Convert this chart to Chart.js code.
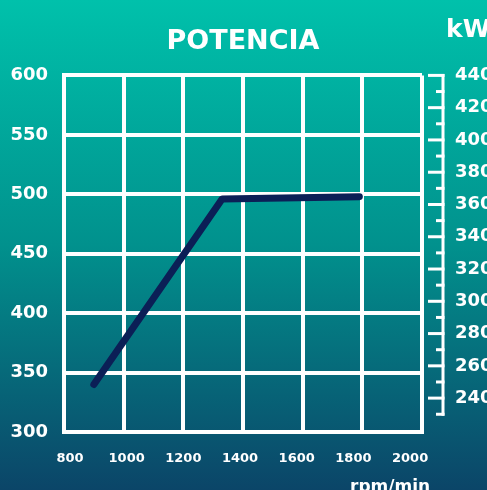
<!DOCTYPE html>
<html>
<head>
<meta charset="utf-8">
<script src="https://cdn.jsdelivr.net/npm/chart.js@4"></script>
<style>
html, body { margin: 0; padding: 0; overflow: hidden; width: 487px; height: 490px; background: #0a4a6a; }
canvas { display: block; }
</style>
</head>
<body>
<canvas id="c" width="510" height="500"></canvas>
<script>
// ---- data ----
const rpm = [900, 1330, 1790];
const potenciaCV = [340, 496, 498];
const xTicks = [800, 1000, 1200, 1400, 1600, 1800, 2000];
const yTicks = [300, 350, 400, 450, 500, 550, 600];
const kwTicks = [240, 260, 280, 300, 320, 340, 360, 380, 400, 420, 440];
const kwLadder = [230, 240, 250, 260, 270, 280, 290, 300, 310, 320, 330, 340, 350, 360, 370, 380, 390, 400, 410, 420, 430, 440];

const FONT = 'DejaVu Sans';

function fixPad(s) {
  s.paddingLeft = 0; s.paddingRight = 0; s.paddingTop = 0; s.paddingBottom = 0;
}

const bgPlugin = {
  id: 'bg',
  beforeDraw(chart) {
    const ctx = chart.ctx;
    const g = ctx.createLinearGradient(0, 0, 0, 490);
    g.addColorStop(0, '#00c1ab');
    g.addColorStop(0.5, '#01918d');
    g.addColorStop(1, '#0b4568');
    ctx.save();
    ctx.fillStyle = g;
    ctx.fillRect(0, 0, chart.width, chart.height);
    ctx.restore();
  }
};

const decoPlugin = {
  id: 'deco',
  afterDraw(chart) {
    const ctx = chart.ctx;
    const s = chart.scales.y2;
    const ax = chart.chartArea.right + 21;
    ctx.save();
    ctx.strokeStyle = '#ffffff';
    ctx.lineWidth = 3;
    ctx.lineCap = 'butt';
    const yTop = s.getPixelForValue(kwLadder[kwLadder.length - 1]);
    const yBot = s.getPixelForValue(kwLadder[0]);
    ctx.beginPath();
    ctx.moveTo(ax, yTop - 1.5);
    ctx.lineTo(ax, yBot + 1.5);
    ctx.stroke();
    kwLadder.forEach(v => {
      const y = s.getPixelForValue(v);
      const len = (v % 20 === 0) ? 15 : 7;
      ctx.beginPath();
      ctx.moveTo(ax - len, y);
      ctx.lineTo(ax + 1.5, y);
      ctx.stroke();
    });
    ctx.fillStyle = '#ffffff';
    ctx.font = 'bold 25px ' + FONT;
    ctx.textBaseline = 'middle';
    ctx.textAlign = 'left';
    ctx.fillText('kW', 446, 30);
    ctx.font = 'bold 17px ' + FONT;
    ctx.textBaseline = 'alphabetic';
    ctx.fillText('rpm/min', 350, 492);
    ctx.restore();
  }
};

new Chart(document.getElementById('c'), {
  type: 'line',
  data: {
    datasets: [{
      data: rpm.map((x, i) => ({ x: x, y: potenciaCV[i] })),
      borderColor: '#0b1f56',
      borderWidth: 7,
      borderCapStyle: 'round',
      borderJoinStyle: 'round',
      pointRadius: 0,
      tension: 0,
      clip: false,
      xAxisID: 'x',
      yAxisID: 'y'
    }]
  },
  options: {
    responsive: false,
    animation: false,
    devicePixelRatio: 1,
    layout: { padding: { left: 10, right: 17, top: 0, bottom: 33 } },
    plugins: {
      legend: { display: false },
      tooltip: { enabled: false },
      title: {
        display: true,
        fullSize: false,
        text: 'POTENCIA',
        color: '#ffffff',
        font: { family: FONT, weight: 'bold', size: 27 },
        padding: { top: 26, bottom: 17 }
      }
    },
    scales: {
      x: {
        type: 'linear',
        position: 'bottom',
        min: 800, max: 2000,
        afterBuildTicks: s => { s.ticks = xTicks.map(v => ({ value: v })); },
        afterFit: s => { s.height = 0; fixPad(s); },
        grid: { color: '#ffffff', lineWidth: 4, drawTicks: false },
        border: { display: true, color: '#ffffff', width: 4 },
        ticks: { display: false }
      },
      xl: {
        type: 'linear',
        position: 'bottom',
        min: 779, max: 2042,
        afterBuildTicks: s => { s.ticks = xTicks.map(v => ({ value: v })); },
        afterFit: s => { s.height = 35; fixPad(s); },
        grid: { display: false, drawTicks: false },
        border: { display: false },
        ticks: {
          color: '#ffffff',
          padding: 19,
          font: { family: FONT, weight: 'bold', size: 13 },
          callback: v => String(v),
          maxRotation: 0,
          autoSkip: false
        }
      },
      y: {
        type: 'linear',
        position: 'left',
        min: 300, max: 600,
        afterBuildTicks: s => { s.ticks = yTicks.map(v => ({ value: v })); },
        afterFit: s => { s.width = 54; fixPad(s); },
        grid: { color: '#ffffff', lineWidth: 4, drawTicks: false },
        border: { display: true, color: '#ffffff', width: 4 },
        ticks: {
          color: '#ffffff',
          padding: 16,
          font: { family: FONT, weight: 'bold', size: 18 },
          callback: v => String(v)
        }
      },
      y2: {
        type: 'linear',
        position: 'right',
        min: 219, max: 440,
        afterBuildTicks: s => { s.ticks = kwTicks.map(v => ({ value: v })); },
        afterFit: s => { s.width = 71; fixPad(s); },
        grid: { display: false, drawOnChartArea: false, drawTicks: false },
        border: { display: false },
        ticks: {
          color: '#ffffff',
          padding: 33,
          font: { family: FONT, weight: 'bold', size: 18 },
          callback: v => String(v)
        }
      }
    }
  },
  plugins: [bgPlugin, decoPlugin]
});
</script>
</body>
</html>
